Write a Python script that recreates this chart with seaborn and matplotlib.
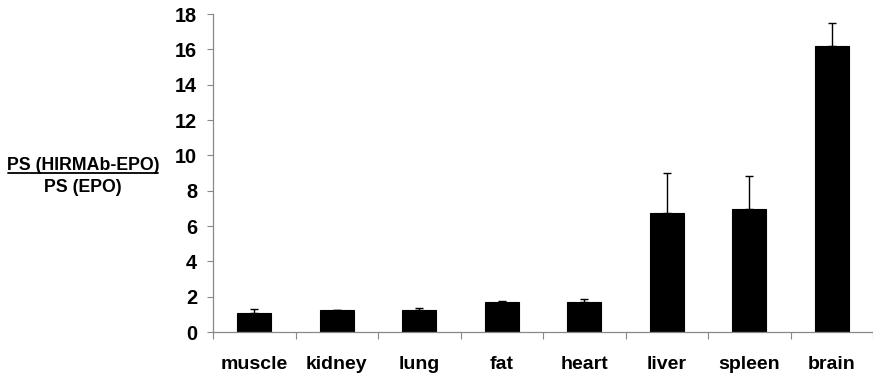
import matplotlib
matplotlib.use("Agg")
import matplotlib.pyplot as plt
import seaborn as sns
import pandas as pd
import numpy as np
from matplotlib.lines import Line2D

# Tissue PS ratios (HIRMAb-EPO / EPO) with SE (upper bars only)
tissues = ["muscle", "kidney", "lung", "fat", "heart", "liver", "spleen", "brain"]
ratio = [1.10, 1.22, 1.25, 1.68, 1.70, 6.74, 6.95, 16.2]
ratio_se = [0.20, 0.05, 0.10, 0.06, 0.16, 2.27, 1.87, 1.30]
yticks = [0, 2, 4, 6, 8, 10, 12, 14, 16, 18]

sns.set_theme(style="white")
plt.rcParams["font.family"] = ["Liberation Sans", "DejaVu Sans"]
plt.rcParams["font.weight"] = "bold"
plt.rcParams["text.color"] = "black"
plt.rcParams["xtick.labelcolor"] = "black"
plt.rcParams["ytick.labelcolor"] = "black"

df = pd.DataFrame({"tissue": tissues, "ratio": ratio})

fig = plt.figure(figsize=(8.73, 3.74), dpi=100)
ax = fig.add_axes([213 / 873, 42 / 374, 1 - 213 / 873, 318 / 374])

sns.barplot(data=df, x="tissue", y="ratio", color="black", width=0.41,
            errorbar=None, ax=ax, saturation=1, edgecolor="black", linewidth=0.8)

xpos = np.arange(len(tissues))
ax.errorbar(xpos, ratio, yerr=[np.zeros(len(ratio_se)), ratio_se], fmt="none",
            ecolor="black", elinewidth=1.0, capsize=3, capthick=1.0, zorder=3)

ax.set_ylim(0, 18)
ax.set_xlim(-0.5, 7.5)
ax.set_yticks(yticks)
ax.set_yticklabels([str(t) for t in yticks], fontsize=14.3, fontweight="bold", color="black")
ax.set_xticks(xpos)
ax.set_xticklabels(tissues, fontsize=14, fontweight="bold", color="black")
ax.set_xticks(np.arange(-0.5, 8.0, 1.0), minor=True)
ax.tick_params(axis="x", which="major", length=0, pad=17)
ax.tick_params(axis="x", which="minor", length=5, width=0.8, color="#888888", direction="out", bottom=True)
ax.tick_params(axis="y", which="major", length=4.5, width=0.8, color="#888888", direction="out", left=True, pad=7)
ax.set_xlabel("")
ax.set_ylabel("")

for side in ["top", "right"]:
    ax.spines[side].set_visible(False)
for side in ["left", "bottom"]:
    ax.spines[side].set_color("#888888")
    ax.spines[side].set_linewidth(0.9)

# Stacked ratio label with underline as fraction bar
fig.text(83 / 873, 1 - 165 / 374, "PS (HIRMAb-EPO)", ha="center", va="center",
         fontsize=12.8, fontweight="bold", color="black")
fig.text(83 / 873, 1 - 188 / 374, "PS (EPO)", ha="center", va="center",
         fontsize=12.8, fontweight="bold", color="black")
fig.add_artist(Line2D([8 / 873, 158 / 873], [1 - 173 / 374, 1 - 173 / 374],
                      color="black", linewidth=1.3, transform=fig.transFigure))

fig.savefig("out.png", dpi=100)
